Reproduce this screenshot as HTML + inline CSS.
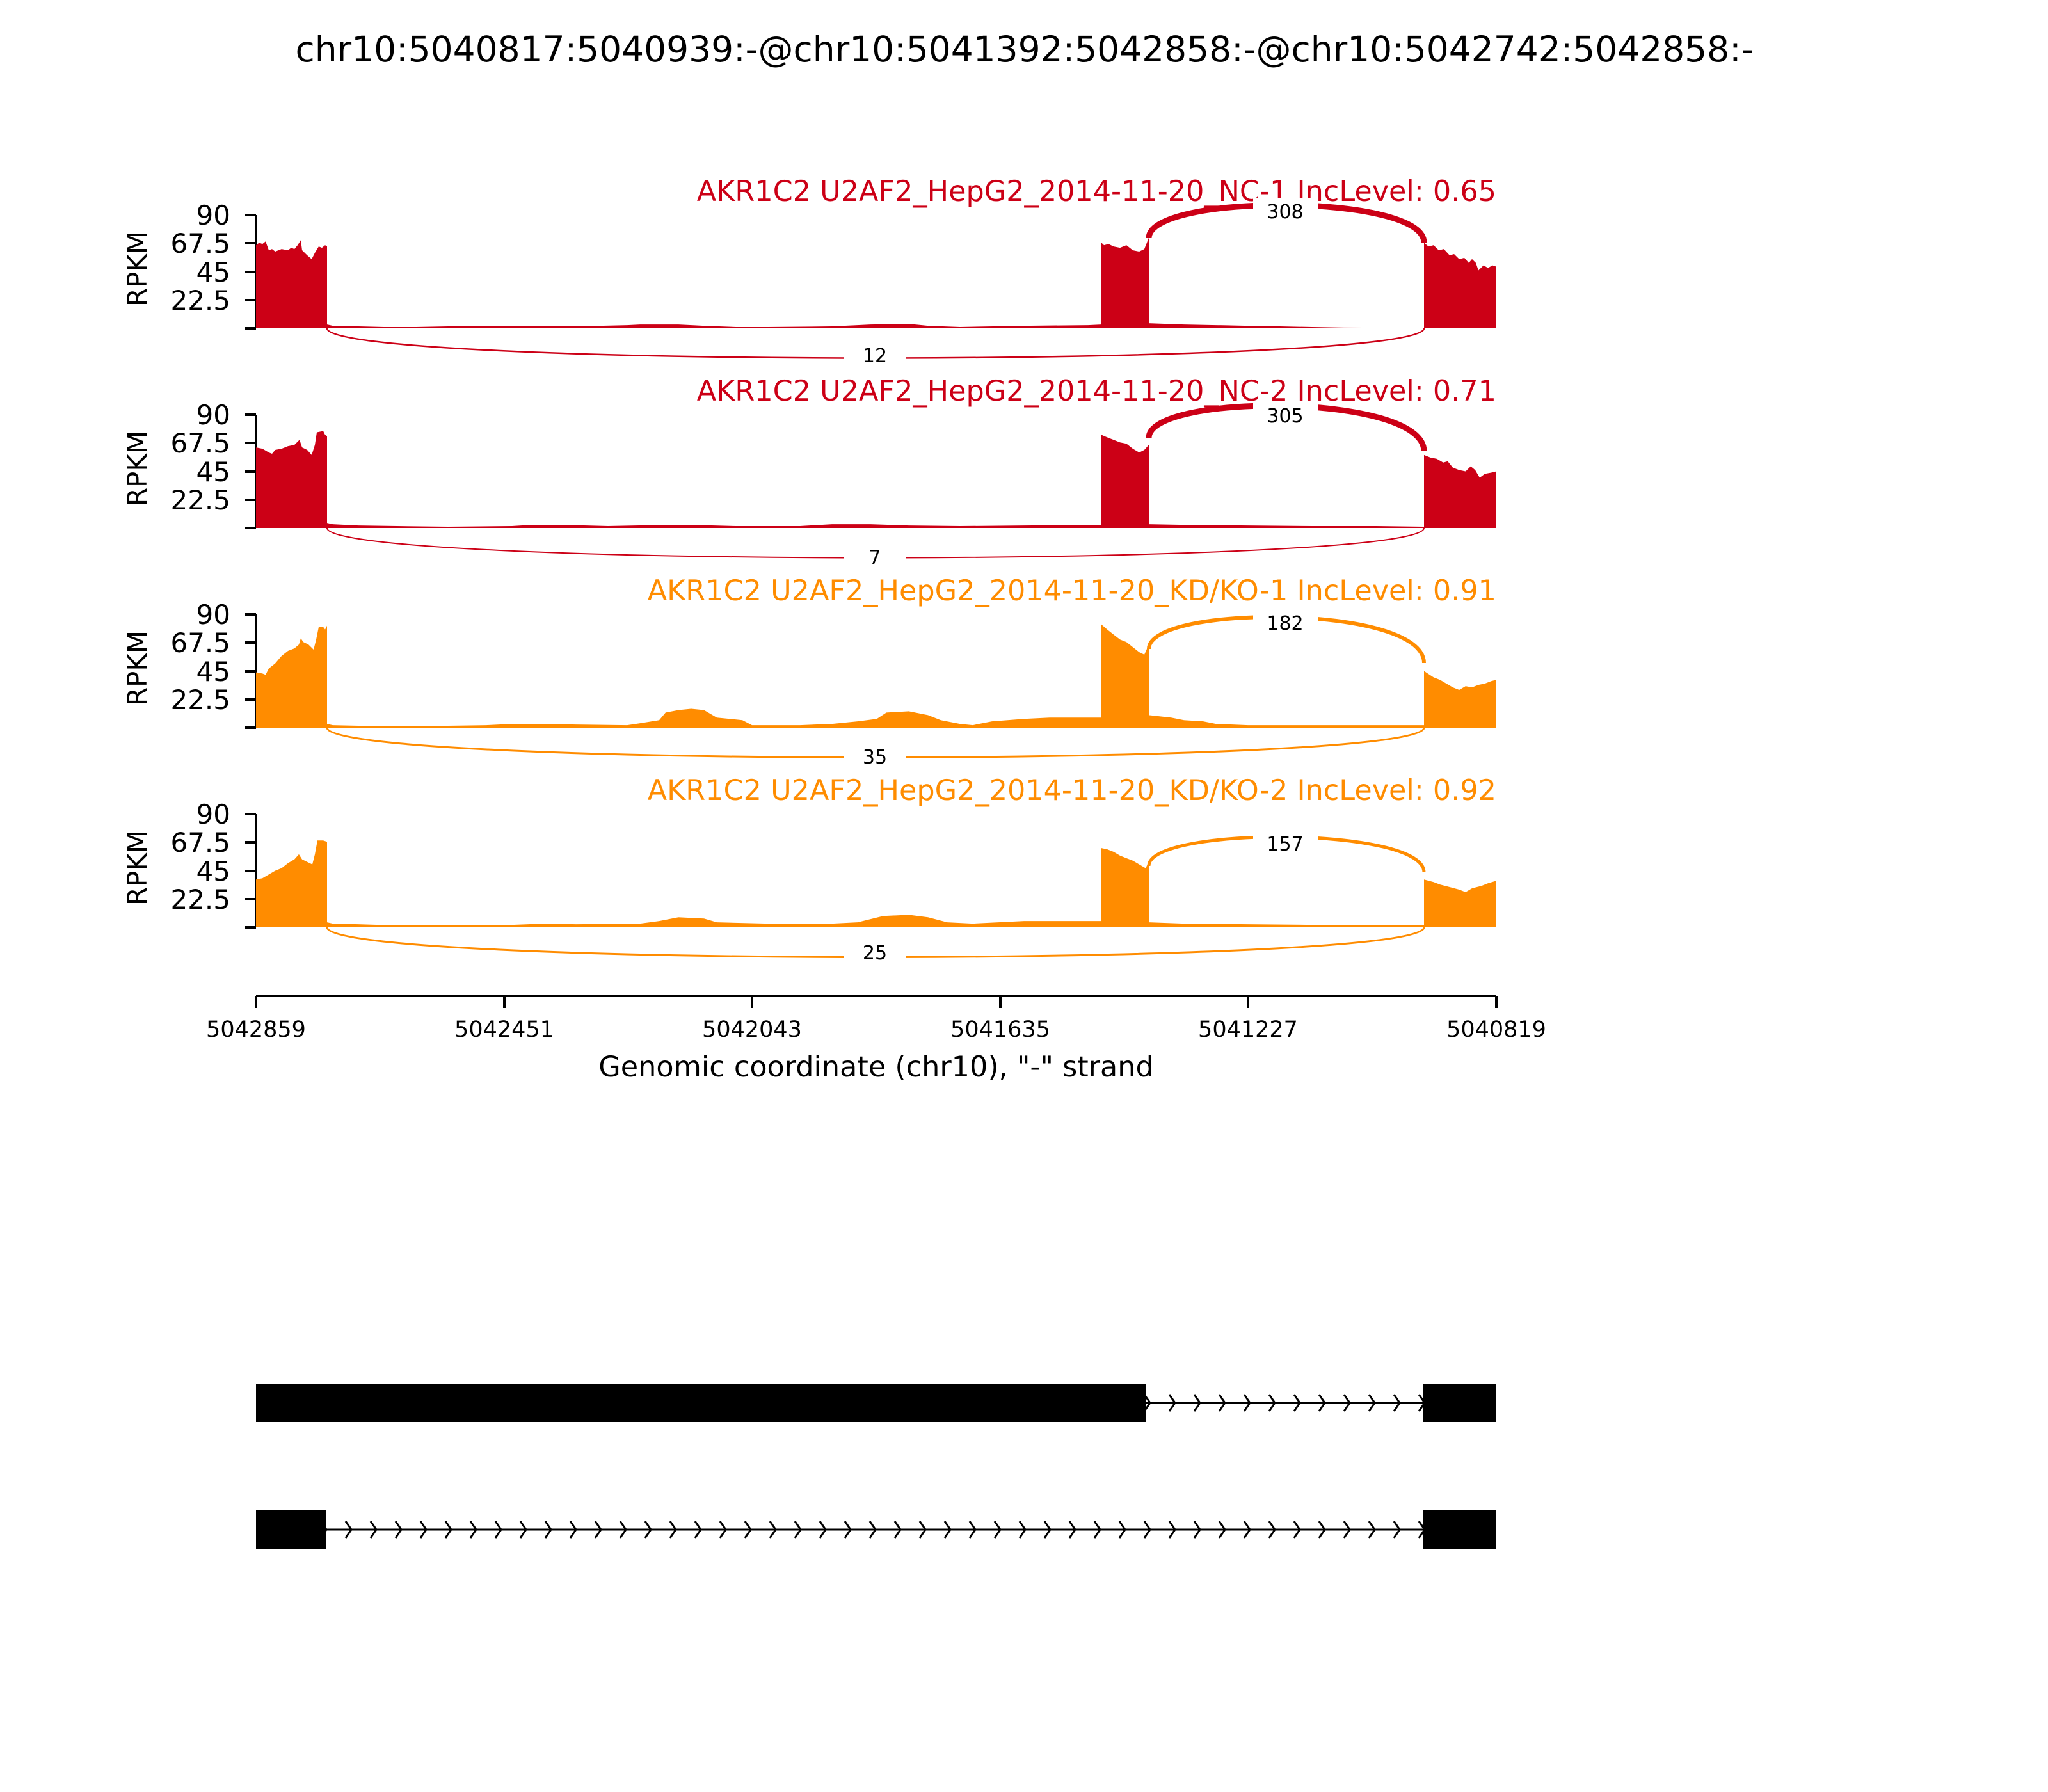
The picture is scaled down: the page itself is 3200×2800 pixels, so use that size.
<!DOCTYPE html>
<html><head><meta charset="utf-8"><style>
html,body{margin:0;padding:0;background:#fff}
svg{display:block}
text{font-family:"DejaVu Sans","Liberation Sans",sans-serif}
</style></head><body>
<svg width="3200" height="2800" viewBox="0 0 3200 2800" xmlns="http://www.w3.org/2000/svg">
<defs>
<pattern id="chev" x="491" y="-15" width="39" height="30" patternUnits="userSpaceOnUse">
<path d="M10 2 L19 15 L10 28" fill="none" stroke="#000" stroke-width="3"/>
</pattern>
</defs>
<rect width="3200" height="2800" fill="#fff"/>
<text x="1601" y="96" font-size="55" text-anchor="middle">chr10:5040817:5040939:-@chr10:5041392:5042858:-@chr10:5042742:5042858:-</text>

<g stroke="#000" stroke-width="4" fill="none">
 <path d="M400 336 V513 M383 336 H400 M383 380 H400 M383 425 H400 M383 469 H400 M383 513 H400"/>
 <path d="M400 648 V825 M383 648 H400 M383 692 H400 M383 737 H400 M383 781 H400 M383 825 H400"/>
 <path d="M400 960 V1137 M383 960 H400 M383 1004 H400 M383 1049 H400 M383 1093 H400 M383 1137 H400"/>
 <path d="M400 1272 V1449 M383 1272 H400 M383 1316 H400 M383 1361 H400 M383 1405 H400 M383 1449 H400"/>
</g>
<g font-size="42" text-anchor="end">
 <text x="360" y="351">90</text><text x="360" y="395">67.5</text><text x="360" y="440">45</text><text x="360" y="484">22.5</text>
 <text x="360" y="663">90</text><text x="360" y="707">67.5</text><text x="360" y="752">45</text><text x="360" y="796">22.5</text>
 <text x="360" y="975">90</text><text x="360" y="1019">67.5</text><text x="360" y="1064">45</text><text x="360" y="1108">22.5</text>
 <text x="360" y="1287">90</text><text x="360" y="1331">67.5</text><text x="360" y="1376">45</text><text x="360" y="1420">22.5</text>
</g>
<g font-size="42" text-anchor="middle">
 <text transform="translate(229,420) rotate(-90)">RPKM</text>
 <text transform="translate(229,732) rotate(-90)">RPKM</text>
 <text transform="translate(229,1044) rotate(-90)">RPKM</text>
 <text transform="translate(229,1356) rotate(-90)">RPKM</text>
</g>
<g font-size="44.5" text-anchor="end">
 <text x="2338" y="314" fill="#cc0016">AKR1C2 U2AF2_HepG2_2014-11-20_NC-1 IncLevel: 0.65</text>
 <text x="2338" y="626" fill="#cc0016">AKR1C2 U2AF2_HepG2_2014-11-20_NC-2 IncLevel: 0.71</text>
 <text x="2338" y="938" fill="#ff8c00">AKR1C2 U2AF2_HepG2_2014-11-20_KD/KO-1 IncLevel: 0.91</text>
 <text x="2338" y="1250" fill="#ff8c00">AKR1C2 U2AF2_HepG2_2014-11-20_KD/KO-2 IncLevel: 0.92</text>
</g>

<g transform="translate(0,513) scale(1,-1.967)" fill="#cc0016">
<path d="M400 0 L400 66 L405 68 L410 67 L415 69 L420 62 L425 63 L430 61 L440 63 L450 62 L455 64 L460 63 L465 66 L470 70 L472 62 L480 58 L487 55 L492 60 L498 65 L503 64 L508 66 L511 65 L511 3 L520 2 L560 1.5 L600 1 L650 1 L700 1.5 L800 2 L900 1.5 L980 2.5 L1000 3 L1060 3 L1100 2 L1150 1 L1200 1 L1300 1.5 L1360 3 L1420 3.5 L1450 2 L1500 1 L1600 2 L1700 2.5 L1721 3 L1721 68 L1725 66 L1732 67 L1740 65 L1750 64 L1760 66 L1770 62 L1780 61 L1788 63 L1792 68 L1795 72 L1795 4 L1850 3 L1900 2.5 L1950 2 L2000 1.5 L2050 1 L2100 0.6 L2225 0.3 L2225 68 L2232 65 L2240 66 L2248 62 L2256 63 L2265 58 L2272 59 L2280 55 L2288 56 L2295 52 L2300 55 L2306 52 L2310 46 L2318 50 L2325 48 L2332 50 L2338 49 L2338 0 Z"/>
</g>
<g transform="translate(0,825) scale(1,-1.967)" fill="#cc0016">
<path d="M400 0 L400 64 L410 63 L420 60 L425 59 L430 62 L440 63 L450 65 L460 66 L468 70 L472 64 L480 62 L487 58 L492 66 L495 76 L505 77 L508 74 L511 73 L511 4 L520 3 L560 2 L620 1.5 L700 1 L800 1.5 L830 2.5 L880 2.5 L950 1.5 L1040 2.5 L1080 2.5 L1150 1.5 L1250 1.5 L1300 3 L1360 3 L1420 2 L1500 1.5 L1600 2 L1721 2.5 L1721 74 L1730 72 L1740 70 L1750 68 L1760 67 L1770 63 L1780 60 L1788 62 L1795 66 L1795 3 L1850 2.5 L1950 2 L2050 1.5 L2150 1.5 L2225 1 L2225 58 L2235 56 L2245 55 L2255 52 L2262 53 L2270 48 L2280 46 L2290 45 L2298 49 L2305 46 L2312 40 L2320 43 L2330 44 L2338 45 L2338 0 Z"/>
</g>
<g transform="translate(0,1137) scale(1,-1.967)" fill="#ff8c00">
<path d="M400 0 L400 44 L410 43 L415 42 L420 47 L430 51 L440 57 L450 61 L460 63 L467 66 L470 71 L474 68 L482 66 L490 62 L494 70 L498 80 L505 80 L508 78 L511 81 L511 3 L520 2 L560 1.5 L620 1 L700 1.5 L760 2 L800 3 L850 3 L900 2.5 L980 2 L1000 3.5 L1030 6 L1040 12 L1060 14 L1080 15 L1100 14 L1120 8 L1160 6 L1175 2 L1250 2 L1300 3 L1340 5 L1370 7 L1385 12 L1420 13 L1450 10 L1470 6 L1500 3 L1520 2 L1550 5 L1600 7 L1640 8 L1700 8 L1721 8 L1721 82 L1730 78 L1740 74 L1750 70 L1760 68 L1770 64 L1780 60 L1788 58 L1795 66 L1795 10 L1830 8 L1850 6 L1880 5 L1900 3 L1950 2 L2050 2 L2150 2 L2225 2 L2225 45 L2240 40 L2250 38 L2260 35 L2270 32 L2280 30 L2290 33 L2300 32 L2310 34 L2320 35 L2330 37 L2338 38 L2338 0 Z"/>
</g>
<g transform="translate(0,1449) scale(1,-1.967)" fill="#ff8c00">
<path d="M400 0 L400 38 L410 39 L420 42 L430 45 L440 47 L450 51 L460 54 L467 58 L472 54 L480 52 L488 50 L492 58 L496 69 L505 69 L511 68 L511 4 L520 3 L560 2.5 L620 1.5 L700 1.5 L800 2 L850 3 L900 2.5 L1000 3 L1030 5 L1060 8 L1100 7 L1120 4 L1200 3 L1300 3 L1340 4 L1380 9 L1420 10 L1450 8 L1480 4 L1520 3 L1560 4 L1600 5 L1660 5 L1721 5 L1721 63 L1730 62 L1740 60 L1750 57 L1760 55 L1770 53 L1780 50 L1790 47 L1795 52 L1795 4 L1850 3 L1950 2.5 L2050 2 L2150 2 L2225 2 L2225 38 L2240 36 L2250 34 L2265 32 L2280 30 L2290 28 L2300 31 L2315 33 L2325 35 L2338 37 L2338 0 Z"/>
</g>

<g fill="none">
 <path d="M1795 372 C1795 302, 2225 302, 2225 379" stroke="#cc0016" stroke-width="9"/>
 <path d="M511 513 C511 575, 2225 575, 2225 513" stroke="#cc0016" stroke-width="2.5"/>
 <path d="M1795 684 C1795 614, 2225 614, 2225 705" stroke="#cc0016" stroke-width="9"/>
 <path d="M511 825 C511 887, 2225 887, 2225 825" stroke="#cc0016" stroke-width="2"/>
 <path d="M1795 1014 C1795 944, 2225 944, 2225 1036" stroke="#ff8c00" stroke-width="6"/>
 <path d="M511 1137 C511 1199, 2225 1199, 2225 1137" stroke="#ff8c00" stroke-width="3"/>
 <path d="M1795 1353 C1795 1291, 2225 1291, 2225 1363" stroke="#ff8c00" stroke-width="5"/>
 <path d="M511 1449 C511 1511, 2225 1511, 2225 1449" stroke="#ff8c00" stroke-width="3"/>
</g>
<g fill="#fff">
 <rect x="1958" y="310" width="102" height="40"/>
 <rect x="1318" y="538" width="98" height="36"/>
 <rect x="1958" y="630" width="102" height="38"/>
 <rect x="1318" y="852" width="98" height="36"/>
 <rect x="1958" y="955" width="102" height="38"/>
 <rect x="1318" y="1165" width="98" height="36"/>
 <rect x="1958" y="1300" width="102" height="38"/>
 <rect x="1318" y="1471" width="98" height="36"/>
</g>
<g font-size="30" text-anchor="middle">
 <text x="2008" y="341">308</text>
 <text x="1367" y="566">12</text>
 <text x="2008" y="660">305</text>
 <text x="1367" y="881">7</text>
 <text x="2008" y="984">182</text>
 <text x="1367" y="1193">35</text>
 <text x="2008" y="1329">157</text>
 <text x="1367" y="1499">25</text>
</g>

<g stroke="#000" stroke-width="4" fill="none">
 <path d="M400 1556 H2338 M400 1556 V1575 M788 1556 V1575 M1175 1556 V1575 M1563 1556 V1575 M1950 1556 V1575 M2338 1556 V1575"/>
</g>
<g font-size="35" text-anchor="middle">
 <text x="400" y="1620">5042859</text>
 <text x="788" y="1620">5042451</text>
 <text x="1175" y="1620">5042043</text>
 <text x="1563" y="1620">5041635</text>
 <text x="1950" y="1620">5041227</text>
 <text x="2338" y="1620">5040819</text>
</g>
<text x="1369" y="1682" font-size="44.5" text-anchor="middle">Genomic coordinate (chr10), "-" strand</text>

<rect x="400" y="2162" width="1391" height="60" fill="#000"/>
<rect x="2224" y="2162" width="114" height="60" fill="#000"/>
<line x1="1791" y1="2192" x2="2224" y2="2192" stroke="#000" stroke-width="3"/>
<g transform="translate(0,2192)"><rect x="1791" y="-15" width="433" height="30" fill="url(#chev)"/></g>

<rect x="400" y="2360" width="110" height="60" fill="#000"/>
<rect x="2224" y="2360" width="114" height="60" fill="#000"/>
<line x1="510" y1="2390" x2="2224" y2="2390" stroke="#000" stroke-width="3"/>
<g transform="translate(0,2390)"><rect x="505" y="-15" width="1719" height="30" fill="url(#chev)"/></g>
</svg>
</body></html>
